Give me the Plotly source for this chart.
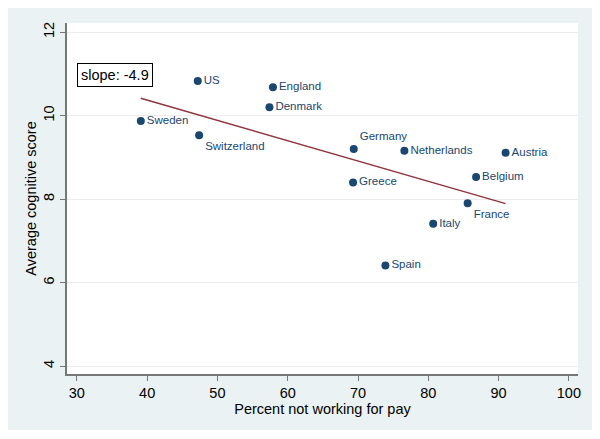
import numpy as np
import plotly.graph_objects as go

countries = ["US", "England", "Denmark", "Sweden", "Switzerland", "Germany",
             "Netherlands", "Austria", "Greece", "Belgium", "France", "Italy", "Spain"]
pct_not_working = [47.2, 57.9, 57.4, 39.1, 47.4, 69.4, 76.6, 91.0, 69.3, 86.8, 85.6, 80.7, 73.9]
cog_score = [10.83, 10.68, 10.20, 9.87, 9.53, 9.20, 9.16, 9.11, 8.40, 8.53, 7.90, 7.41, 6.41]
label_pos = ["middle right", "middle right", "middle right", "middle right", "bottom right",
             "top right", "middle right", "middle right", "middle right", "middle right",
             "bottom right", "middle right", "middle right"]

x_ticks = [30, 40, 50, 60, 70, 80, 90, 100]
y_ticks = [4, 6, 8, 10, 12]

NAVY = "#1a476f"
MAROON = "#90353b"
FONT = "Liberation Sans, Arial, sans-serif"

# linear fit
slope, intercept = np.polyfit(pct_not_working, cog_score, 1)
fit_x = np.array([min(pct_not_working), max(pct_not_working)])
fit_y = intercept + slope * fit_x

fig = go.Figure()
fig.add_trace(go.Scatter(
    x=fit_x, y=fit_y, mode="lines",
    line=dict(color=MAROON, width=1.5), showlegend=False, hoverinfo="skip"
))
fig.add_trace(go.Scatter(
    x=pct_not_working, y=cog_score, mode="markers+text",
    text=countries, textposition=label_pos,
    textfont=dict(family=FONT, size=11.5, color=NAVY),
    marker=dict(color=NAVY, size=8),
    showlegend=False
))

fig.add_annotation(
    x=30, y=10.97, xanchor="left", yanchor="middle", showarrow=False,
    text=f"slope: {slope * 100:.1f}",
    font=dict(family=FONT, size=14.5, color="black"),
    bgcolor="white", bordercolor="black", borderwidth=1, borderpad=3
)

fig.update_layout(
    width=584, height=422,
    margin=dict(l=59, r=14, t=15, b=56),
    paper_bgcolor="#eaf2f3", plot_bgcolor="white",
    font=dict(family=FONT, color="black"),
    xaxis=dict(
        range=[28.6, 101.3], tickvals=x_ticks, showgrid=False, zeroline=False,
        showline=True, linecolor="#777777", linewidth=1.5,
        ticks="outside", ticklen=5, tickcolor="#777777",
        tickfont=dict(size=14.5, color="black"),
        title=dict(text="Percent not working for pay", font=dict(size=14.5), standoff=0)
    ),
    yaxis=dict(
        range=[3.81, 12.22], tickvals=y_ticks, showgrid=True, gridcolor="#ececec", zeroline=False,
        showline=True, linecolor="#777777", linewidth=1.5,
        ticks="outside", ticklen=5, tickcolor="#777777", tickangle=-90,
        tickfont=dict(size=14.5, color="black"),
        title=dict(text="Average cognitive score", font=dict(size=14.5), standoff=1)
    ),
)

fig.write_html("out.html")
